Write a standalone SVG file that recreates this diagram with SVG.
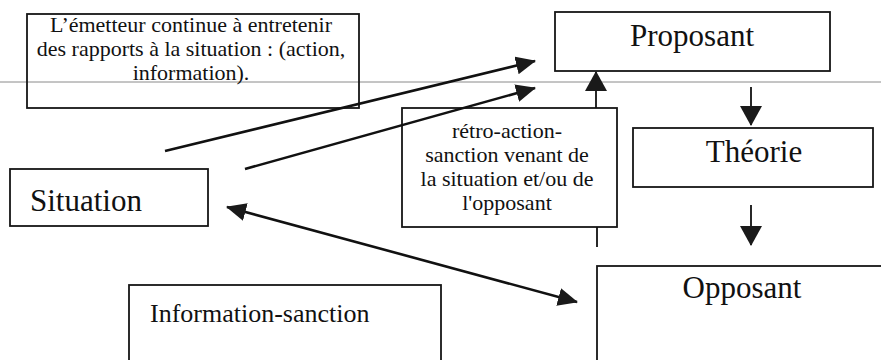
<svg xmlns="http://www.w3.org/2000/svg" width="881" height="360" viewBox="0 0 881 360">
<defs>
<style>
.box{fill:#fff;stroke:#161616;stroke-width:1.8}
.t{font-family:'Liberation Serif','DejaVu Serif',serif;fill:#111}
.s{font-size:22px}
.b{font-size:31px}
.m{font-size:26px}
.c{stroke:#111;stroke-width:2.6;fill:none}
.v{stroke:#111;stroke-width:1.8;fill:none}
</style>
<marker id="ah" viewBox="0 0 20 18" refX="19" refY="9" markerWidth="20" markerHeight="18" markerUnits="userSpaceOnUse" orient="auto-start-reverse">
<path d="M0,0 L20,9 L0,18 Z" fill="#1a1a1a"/>
</marker>
<marker id="av" viewBox="0 0 20 22" refX="19" refY="11" markerWidth="20" markerHeight="22" markerUnits="userSpaceOnUse" orient="auto">
<path d="M0,0 L20,11 L0,22 Z" fill="#1a1a1a"/>
</marker>
</defs>
<rect x="0" y="0" width="881" height="360" fill="#fff"/>
<line x1="0" y1="82" x2="881" y2="82" stroke="#8a8a8a" stroke-width="1"/>

<g id="note-emetteur" font-family="Liberation Serif, DejaVu Serif, serif">
<rect x="27" y="14" width="332" height="94" fill="none" stroke="#161616" stroke-width="1.8"/>
<text class="t s" text-anchor="middle" x="191" y="32">L’émetteur continue à entretenir</text>
<text class="t s" text-anchor="middle" x="191" y="56">des rapports à la situation : (action,</text>
<text class="t s" text-anchor="middle" x="191" y="80">information).</text>
</g>

<g id="proposant" font-family="Liberation Serif, DejaVu Serif, serif">
<rect class="box" x="555" y="12" width="275" height="59"/>
<text class="t b" text-anchor="middle" x="692" y="46">Proposant</text>
</g>

<g id="retro-action" font-family="Liberation Serif, DejaVu Serif, serif">
<rect class="box" x="402" y="108" width="215" height="119"/>
<text class="t s" text-anchor="middle" x="507" y="138">rétro-action-</text>
<text class="t s" text-anchor="middle" x="507" y="162">sanction venant de</text>
<text class="t s" text-anchor="middle" x="507" y="186">la situation et/ou de</text>
<text class="t s" text-anchor="middle" x="507" y="210">l'opposant</text>
</g>

<g id="theorie" font-family="Liberation Serif, DejaVu Serif, serif">
<rect class="box" x="633" y="128" width="240" height="59"/>
<text class="t b" text-anchor="middle" x="754" y="162">Théorie</text>
</g>

<g id="situation" font-family="Liberation Serif, DejaVu Serif, serif">
<rect class="box" x="10" y="169" width="198" height="57"/>
<text class="t b" x="30" y="211">Situation</text>
</g>

<g id="opposant" font-family="Liberation Serif, DejaVu Serif, serif">
<rect class="box" x="597" y="266" width="300" height="110"/>
<text class="t b" text-anchor="middle" x="742" y="298">Opposant</text>
</g>

<g id="information-sanction" font-family="Liberation Serif, DejaVu Serif, serif">
<rect class="box" x="129" y="285" width="312" height="90"/>
<text class="t m" x="150" y="322">Information-sanction</text>
</g>

<g id="connectors">
<line class="c" x1="165" y1="151" x2="535" y2="61" marker-end="url(#ah)"/>
<line class="c" x1="245" y1="169" x2="535" y2="88" marker-end="url(#ah)"/>
<line class="c" x1="227" y1="207" x2="577" y2="302" marker-start="url(#ah)" marker-end="url(#ah)"/>
<line class="v" x1="596" y1="108" x2="596" y2="72" marker-end="url(#av)"/>
<line class="v" x1="597" y1="227" x2="597" y2="247"/>
<line class="v" x1="751" y1="87" x2="751" y2="125" marker-end="url(#av)"/>
<line class="v" x1="751" y1="205" x2="751" y2="245" marker-end="url(#av)"/>
</g>
</svg>
